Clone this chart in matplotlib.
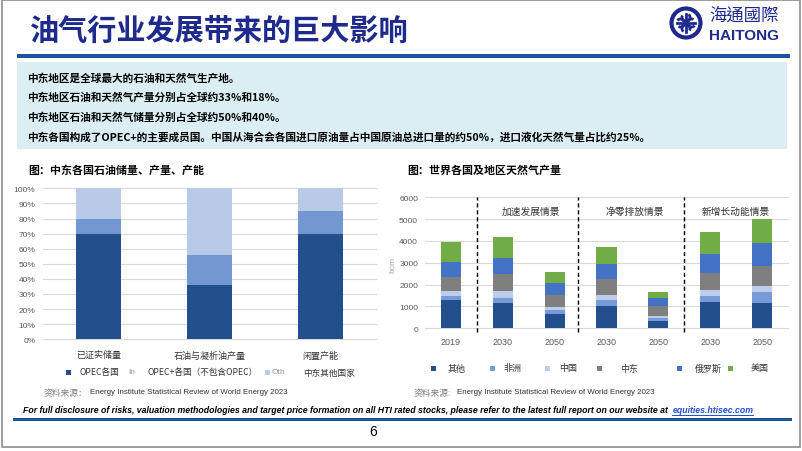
import numpy as np
import matplotlib
matplotlib.use('Agg')
import matplotlib.pyplot as plt
from matplotlib.patches import Rectangle, Circle, Arc

plt.rcParams['font.family'] = ['Noto Sans CJK SC', 'DejaVu Sans']

TITLE = '油气行业发展带来的巨大影响'
POINTS = [
    '中东地区是全球最大的石油和天然气生产地。',
    '中东地区石油和天然气产量分别占全球约33%和18%。',
    '中东地区石油和天然气储量分别占全球约50%和40%。',
    '中东各国构成了OPEC+的主要成员国。中国从海合会各国进口原油量占中国原油总进口量的约50%，进口液化天然气量占比约25%。',
]
SOURCE = 'Energy Institute Statistical Review of World Energy 2023'

# left chart: oil reserves / production / spare capacity, share (%)
OIL_TITLE = '图：中东各国石油储量、产量、产能'
OIL_CATS = ['已证实储量', '石油与凝析油产量', '闲置产能']
OIL_OPEC = [70, 36, 70]
OIL_OPEC_PLUS = [10, 20, 15]
OIL_ME_OTHER = [20, 44, 15]
OIL_LEGEND = ['OPEC各国', 'OPEC+各国（不包含OPEC）', '中东其他国家']

# right chart: natural gas production, bcm
GAS_TITLE = '图：世界各国及地区天然气产量'
GAS_YEARS = ['2019', '2030', '2050', '2030', '2050', '2030', '2050']
GAS_SCENARIOS = ['加速发展情景', '净零排放情景', '新增长动能情景']
GAS_SERIES = ['其他', '非洲', '中国', '中东', '俄罗斯', '美国']
GAS_OTHER = [1280, 1170, 650, 1030, 320, 1200, 1150]
GAS_AFRICA = [220, 230, 180, 270, 130, 280, 510]
GAS_CHINA = [200, 290, 155, 240, 120, 260, 280]
GAS_MIDEAST = [650, 800, 555, 710, 445, 800, 920]
GAS_RUSSIA = [700, 740, 540, 700, 370, 845, 1030]
GAS_USA = [920, 970, 520, 760, 295, 1045, 1110]

NAVY = '#1E2A8C'
RULE = '#1C54A0'
DARK = '#23508C'
MID = '#7297D1'
LIGHT = '#B9CAE8'
GAS_COLORS = [DARK, '#769BD6', '#BCCDEA', '#7F7F7F', '#4472C4', '#70AD47']
TICK = '#595959'
GRID = '#D9D9D9'

W, H = 802, 452
fig = plt.figure(figsize=(W / 100, H / 100), dpi=100)
bg = fig.add_axes([0, 0, 1, 1])
bg.set_xlim(0, W)
bg.set_ylim(H, 0)
bg.axis('off')


def frac(x, y, w, h):
    return [x / W, 1 - (y + h) / H, w / W, h / H]


# slide frame, header, rule
bg.add_patch(Rectangle((2, 1), 798, 447, fill=False, ec='#8C8C8C', lw=1.2))
bg.text(30, 31, TITLE, fontsize=21, color=NAVY, weight='bold', va='center', ha='left')
bg.add_patch(Rectangle((17, 55), 773, 4, color=RULE, lw=0))

# logo
bg.add_patch(Circle((686, 24), 14.5, fill=False, ec=NAVY, lw=3))
for ang in [0, 90, 180, 270]:
    t = np.deg2rad(ang)
    cx, cy = 686 + 5.5 * np.cos(t), 24 + 5.5 * np.sin(t)
    bg.add_patch(Arc((cx, cy), 8, 8, angle=ang, theta1=40, theta2=300, color=NAVY, lw=2))
bg.plot([677, 695], [24, 24], color=NAVY, lw=2)
bg.plot([686, 686], [15, 33], color=NAVY, lw=2)
bg.text(744, 17, '海通國際', family=['Noto Sans CJK TC'], fontsize=12.5, color=NAVY,
        ha='center', va='center')
bg.text(744.5, 35.5, 'HAITONG', family=['Liberation Sans'], fontsize=11, weight='bold',
        color=NAVY, ha='center', va='center')

# key points box
bg.add_patch(Rectangle((17, 63), 770, 87, color='#DAEEF3', lw=0))
for i, line in enumerate(POINTS):
    bg.text(27, 78 + i * 19.7, line, fontsize=7.7, weight='bold', color='black',
            ha='left', va='center')

# ---- left chart ----
bg.text(28, 171, OIL_TITLE, fontsize=7.9, weight='bold', ha='left', va='center')
ax1 = fig.add_axes(frac(43, 189.3, 333, 151))
ax1.set_facecolor('none')
x = np.arange(len(OIL_CATS))
b2 = np.array(OIL_OPEC)
b3 = b2 + np.array(OIL_OPEC_PLUS)
ax1.bar(x, OIL_OPEC, 0.4, color=DARK, zorder=3)
ax1.bar(x, OIL_OPEC_PLUS, 0.4, bottom=b2, color=MID, zorder=3)
ax1.bar(x, OIL_ME_OTHER, 0.4, bottom=b3, color=LIGHT, zorder=3)
ax1.set_xlim(-0.5, 2.5)
ax1.set_ylim(0, 100)
ax1.set_yticks(range(0, 101, 10))
ax1.set_yticklabels([f'{v}%' for v in range(0, 101, 10)], family=['Liberation Sans'])
ax1.set_xticks(x)
ax1.set_xticklabels(OIL_CATS, fontsize=6.5, color='#333333')
ax1.yaxis.grid(True, color=GRID, lw=0.8, clip_on=False)
ax1.set_axisbelow(True)
for s in ax1.spines.values():
    s.set_visible(False)
ax1.tick_params(axis='y', length=0, labelsize=6, colors=TICK, pad=5.5)
ax1.tick_params(axis='x', length=0, pad=8)

# left legend (drawn as in the source slide, with its clipped labels)
LEG_FS = 6.2
bg.add_patch(Rectangle((66, 370.5), 5, 5, color=DARK, lw=0))
bg.text(80, 373, OIL_LEGEND[0], fontsize=LEG_FS, ha='left', va='center', color='#333333')
bg.text(128, 373, 'In', family=['Liberation Sans'], fontsize=6, ha='left', va='center', color='#999999')
bg.text(147, 373, OIL_LEGEND[1], fontsize=LEG_FS, ha='left', va='center', color='#333333')
bg.add_patch(Rectangle((265, 370.5), 5, 5, color=LIGHT, lw=0))
bg.text(272, 373, 'Oth', family=['Liberation Sans'], fontsize=6, ha='left', va='center', color='#999999')
bg.text(303, 373, OIL_LEGEND[2], fontsize=LEG_FS, ha='left', va='center', color='#333333')
bg.text(44, 393, '资料来源：', fontsize=6.3, ha='left', va='center', color='#7F7F7F')
bg.text(90, 393, SOURCE, family=['Liberation Sans'], fontsize=5.7, ha='left', va='center', color='#333333')

# ---- right chart ----
bg.text(407, 171, GAS_TITLE, fontsize=7.9, weight='bold', ha='left', va='center')
ax2 = fig.add_axes(frac(425, 198.3, 363, 131))
ax2.set_facecolor('none')
xg = np.arange(len(GAS_YEARS))
series = [GAS_OTHER, GAS_AFRICA, GAS_CHINA, GAS_MIDEAST, GAS_RUSSIA, GAS_USA]
bottom = np.zeros(len(GAS_YEARS))
for vals, col in zip(series, GAS_COLORS):
    ax2.bar(xg, vals, 0.39, bottom=bottom, color=col, zorder=3)
    bottom = bottom + np.array(vals)
ax2.set_xlim(-0.5, len(GAS_YEARS) - 0.5)
ax2.set_ylim(0, 6000)
ax2.set_yticks(range(0, 6001, 1000))
ax2.set_yticklabels([str(v) for v in range(0, 6001, 1000)], family=['Liberation Sans'])
ax2.set_xticks(xg)
ax2.set_xticklabels(GAS_YEARS, family=['Liberation Sans'])
ax2.yaxis.grid(True, color=GRID, lw=0.8, clip_on=False)
ax2.set_axisbelow(True)
for s in ax2.spines.values():
    s.set_visible(False)
ax2.tick_params(axis='y', length=0, labelsize=6, colors=TICK, pad=5)
ax2.tick_params(axis='x', length=0, labelsize=6.5, colors=TICK, pad=6)
ax2.vlines([0.5, 2.45, 4.5], -150, 6000, colors='black', linestyles=(0, (3, 2)),
           lw=1, clip_on=False, zorder=4)
for xs, lab in zip([1.55, 3.55, 5.5], GAS_SCENARIOS):
    ax2.text(xs, 5370, lab, fontsize=7, ha='center', va='center', color='#333333')
bg.text(393, 265, 'bcm', family=['Liberation Sans'], fontsize=6, rotation=90,
        ha='center', va='center', color='#A6A6A6')

# right legend
mark_x = [433, 492, 547, 599, 679, 730]
lab_x = [457, 513, 568, 629, 708, 760]
for mx, lx, lab, col in zip(mark_x, lab_x, GAS_SERIES, GAS_COLORS):
    bg.add_patch(Rectangle((mx - 2.5, 366.5), 5, 5, color=col, lw=0))
    bg.text(lx, 369, lab, fontsize=LEG_FS + 0.3, ha='center', va='center', color='#333333')
bg.text(414, 393, '资料来源:', fontsize=6.3, ha='left', va='center', color='#7F7F7F')
bg.text(457, 393, SOURCE, family=['Liberation Sans'], fontsize=5.7, ha='left', va='center', color='#333333')

# ---- footer ----
foot = ('For full disclosure of risks, valuation methodologies and target price formation '
        'on all HTI rated stocks, please refer to the latest full report on our website at ')
ffam = ['Liberation Sans Narrow', 'Liberation Sans']
t1 = bg.text(23, 411, foot, family=ffam, fontsize=7, weight='bold', style='italic',
             ha='left', va='center', color='black')
fig.canvas.draw()
r = fig.canvas.get_renderer()
w1 = t1.get_window_extent(r).width
t1.set_fontsize(7 * 651 / w1)
fig.canvas.draw()
e1 = t1.get_window_extent(r)
link_x = e1.x1 + 2
t2 = bg.text(link_x, 411, 'equities.htisec.com', family=ffam, fontsize=t1.get_fontsize(),
             weight='bold', style='italic', ha='left', va='center', color='#1F4FD0')
fig.canvas.draw()
e2 = t2.get_window_extent(r)
bg.plot([e2.x0, e2.x1], [416, 416], color='#1F4FD0', lw=0.7)
bg.add_patch(Rectangle((13, 418.5), 779, 3, color=RULE, lw=0))
bg.text(373, 432, '6', family=['Liberation Sans'], fontsize=10, ha='center', va='center')

fig.savefig('out.png', dpi=100)
